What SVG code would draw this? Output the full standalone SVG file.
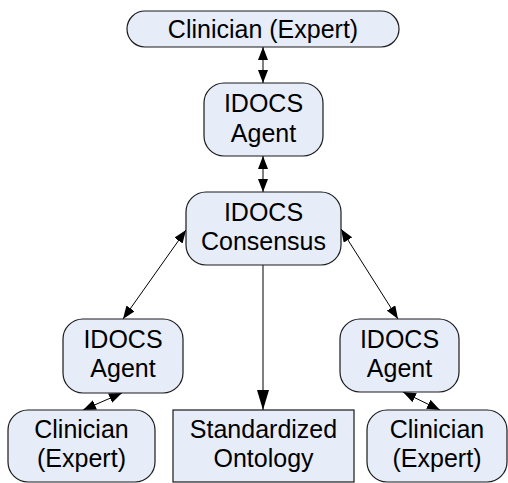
<svg xmlns="http://www.w3.org/2000/svg" width="508" height="483" viewBox="0 0 508 483">
<style>
.box{fill:#E6ECF8;stroke:#1a1a1a;stroke-width:1.2}
.t{font-family:"Liberation Sans",Arial,sans-serif;font-size:25px;fill:#000;text-anchor:middle}
.c{stroke:#000;stroke-width:1;fill:none;marker-end:url(#ah);marker-start:url(#ah)}
.c1{stroke:#000;stroke-width:1;fill:none;marker-end:url(#ahl)}
</style>
<defs>
<marker id="ah" viewBox="0 0 13 10" refX="13" refY="5" markerWidth="13" markerHeight="10" markerUnits="userSpaceOnUse" orient="auto-start-reverse">
<path d="M0,0 L13,5 L0,10 Z" fill="#000"/>
</marker>
<marker id="ahl" viewBox="0 0 20 12" refX="20" refY="6" markerWidth="20" markerHeight="12" markerUnits="userSpaceOnUse" orient="auto">
<path d="M0,0 L20,6 L0,12 Z" fill="#000"/>
</marker>
</defs>
<g id="connectors">
<line class="c" x1="263" y1="47" x2="263" y2="83"/>
<line class="c" x1="263" y1="156" x2="263" y2="192"/>
<line class="c" x1="186" y1="230" x2="123" y2="319"/>
<line class="c" x1="341" y1="229" x2="398" y2="319"/>
<line class="c1" x1="263" y1="265" x2="263" y2="410"/>
<line class="c" x1="122" y1="393" x2="83" y2="410"/>
<line class="c" x1="403" y1="392" x2="440" y2="410"/>
</g>
<g id="clinician-top">
<rect class="box" x="127" y="11" width="272" height="36" rx="18" ry="18"/>
<text class="t" x="263" y="38">Clinician (Expert)</text>
</g>
<g id="agent-top">
<rect class="box" x="204" y="83" width="119" height="73" rx="20" ry="20"/>
<text class="t" x="263.5" y="112">IDOCS</text>
<text class="t" x="263.5" y="142">Agent</text>
</g>
<g id="consensus">
<rect class="box" x="186" y="192" width="155" height="73" rx="20" ry="20"/>
<text class="t" x="263.5" y="221">IDOCS</text>
<text class="t" x="263.5" y="250">Consensus</text>
</g>
<g id="agent-left">
<rect class="box" x="63" y="319" width="120" height="74" rx="20" ry="20"/>
<text class="t" x="123" y="348">IDOCS</text>
<text class="t" x="123" y="377">Agent</text>
</g>
<g id="agent-right">
<rect class="box" x="340" y="319" width="119" height="73" rx="20" ry="20"/>
<text class="t" x="399.5" y="348">IDOCS</text>
<text class="t" x="399.5" y="377">Agent</text>
</g>
<g id="clinician-left">
<rect class="box" x="8" y="410" width="147" height="72" rx="20" ry="20"/>
<text class="t" x="81.5" y="438">Clinician</text>
<text class="t" x="81.5" y="467">(Expert)</text>
</g>
<g id="ontology">
<rect class="box" x="173" y="410" width="181" height="72"/>
<text class="t" x="263.5" y="438">Standardized</text>
<text class="t" x="263.5" y="467">Ontology</text>
</g>
<g id="clinician-right">
<rect class="box" x="367" y="410" width="140" height="72" rx="20" ry="20"/>
<text class="t" x="437" y="438">Clinician</text>
<text class="t" x="437" y="467">(Expert)</text>
</g>
</svg>
